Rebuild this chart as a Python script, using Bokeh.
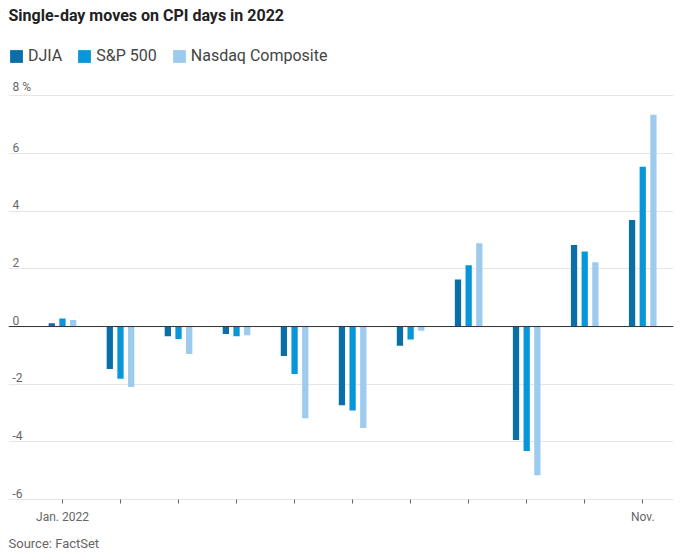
from bokeh.plotting import figure
from bokeh.models import (Range1d, FixedTicker, Legend, LegendItem, Title,
                          Span, ColumnDataSource)
from bokeh.transform import dodge
from bokeh.core.properties import value
from bokeh.embed import file_html
from bokeh.resources import INLINE

# ---- data ----
months = ["Jan", "Feb", "Mar", "Apr", "May", "Jun", "Jul", "Aug", "Sep", "Oct", "Nov"]
month_labels = ["Jan. 2022", "", "", "", "", "", "", "", "", "", "Nov."]
djia = [0.11, -1.47, -0.34, -0.26, -1.02, -2.73, -0.67, 1.63, -3.94, 2.83, 3.70]
sp500 = [0.28, -1.81, -0.43, -0.34, -1.65, -2.91, -0.45, 2.13, -4.32, 2.60, 5.54]
nasdaq = [0.23, -2.10, -0.95, -0.30, -3.18, -3.52, -0.15, 2.89, -5.16, 2.23, 7.35]
y_ticks = [-6, -4, -2, 0, 2, 4, 6, 8]
y_tick_labels = ["-6", "-4", "-2", "0", "2", "4", "6", "8 %"]
series_names = ["DJIA", "S&P 500", "Nasdaq Composite"]
series_colors = ["#0a6fa6", "#0797d8", "#9dcbee"]
title_text = "Single-day moves on CPI days in 2022"
source_text = "Source: FactSet"

FONT = "Roboto"
W, H = 674, 557
X0, X1 = -0.93, 10.53

src = ColumnDataSource(dict(x=list(range(len(months))), djia=djia, sp500=sp500, nasdaq=nasdaq))

p = figure(width=W, height=H, output_backend="svg", toolbar_location=None,
           title=None, y_axis_location=None,
           x_range=Range1d(X0, X1), y_range=Range1d(-6, 10.2),
           min_border_left=8, min_border_right=1, min_border_top=0,
           min_border_bottom=0)
p.outline_line_color = None
p.background_fill_color = "white"

# grid
p.xgrid.visible = False
p.ygrid.ticker = FixedTicker(ticks=y_ticks)
p.ygrid.grid_line_color = "#e6e6e6"
p.ygrid.grid_line_width = 1

# bars
bw = 0.108
off = 0.184
r1 = p.vbar(x=dodge("x", -off, range=p.x_range), top="djia", width=bw, source=src,
            fill_color=series_colors[0], line_color=None)
r2 = p.vbar(x=dodge("x", 0, range=p.x_range), top="sp500", width=bw, source=src,
            fill_color=series_colors[1], line_color=None)
r3 = p.vbar(x=dodge("x", off, range=p.x_range), top="nasdaq", width=bw, source=src,
            fill_color=series_colors[2], line_color=None)

# zero line
p.add_layout(Span(location=0, dimension="width", line_color="#333333", line_width=1))

# y tick labels (drawn above grid lines, left aligned)
ysrc = ColumnDataSource(dict(x=[X0] * len(y_ticks), y=y_ticks, t=y_tick_labels))
p.text(x="x", y="y", text="t", source=ysrc, x_offset=4, y_offset=-2,
       text_baseline="bottom", text_align="left", text_font=value(FONT),
       text_font_size="12px", text_color="#666666")

# x axis
xa = p.xaxis[0]
xa.ticker = FixedTicker(ticks=list(range(len(months))))
xa.major_label_overrides = {i: lab for i, lab in enumerate(month_labels)}
xa.axis_line_color = "#e6e6e6"
xa.major_tick_line_color = "#666666"
xa.major_tick_in = 0
xa.major_tick_out = 4
xa.minor_tick_line_color = None
xa.major_label_standoff = 6
xa.major_label_text_font = FONT
xa.major_label_text_font_size = "12px"
xa.major_label_text_color = "#666666"

# legend inside the frame, top-left
legend = Legend(items=[LegendItem(label=series_names[0], renderers=[r1]),
                       LegendItem(label=series_names[1], renderers=[r2]),
                       LegendItem(label=series_names[2], renderers=[r3])],
                orientation="horizontal", location=(0, 434),
                glyph_width=16, glyph_height=16, label_standoff=4, spacing=14,
                padding=0, margin=0, border_line_color=None,
                background_fill_alpha=0, label_text_font=FONT,
                label_text_font_size="16px", label_text_color="#444444",
                label_height=14)
p.add_layout(legend, "center")

# title above
p.add_layout(Title(text=title_text, align="left", vertical_align="top",
                   text_font=FONT, text_font_size="16px", text_font_style="bold",
                   text_color="#222222", standoff=11, offset=0), "above")

# source note below the axis
p.add_layout(Title(text=source_text, align="left", vertical_align="bottom",
                   text_font=FONT, text_font_size="13px", text_font_style="normal",
                   text_color="#666666", standoff=14, offset=0), "below")

open("out.html", "w").write(file_html(p, INLINE))
